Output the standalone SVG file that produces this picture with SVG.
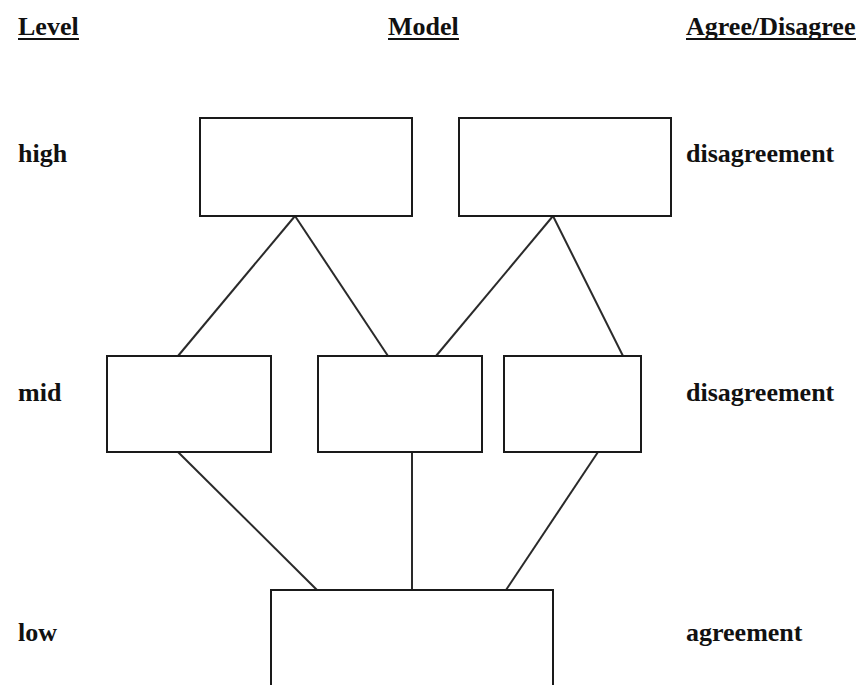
<svg xmlns="http://www.w3.org/2000/svg" width="867" height="685" viewBox="0 0 867 685">
<style>
.box{fill:#fff;stroke:#1a1a1a;stroke-width:2}
.ln{stroke:#2a2a2a;stroke-width:2;fill:none}
.t{font-family:"Liberation Serif","Times New Roman",serif;font-weight:bold;font-size:26px;fill:#111}
.ul{stroke:#111;stroke-width:2}
</style>
<rect width="867" height="685" fill="#fff"/>
<g id="headers">
<text class="t" x="18" y="35">Level</text>
<line class="ul" x1="18" y1="39" x2="79" y2="39"/>
<text class="t" x="388" y="35">Model</text>
<line class="ul" x1="388" y1="39" x2="459" y2="39"/>
<text class="t" x="686" y="35">Agree/Disagree</text>
<line class="ul" x1="686" y1="39" x2="856" y2="39"/>
</g>
<g id="level-labels">
<text class="t" x="18" y="162">high</text>
<text class="t" x="18" y="401">mid</text>
<text class="t" x="18" y="641">low</text>
</g>
<g id="agree-labels">
<text class="t" x="686" y="162">disagreement</text>
<text class="t" x="686" y="401">disagreement</text>
<text class="t" x="686" y="641">agreement</text>
</g>
<g id="connectors">
<line class="ln" x1="295" y1="216" x2="178" y2="356"/>
<line class="ln" x1="295" y1="216" x2="388" y2="356"/>
<line class="ln" x1="553" y1="216" x2="436" y2="356"/>
<line class="ln" x1="553" y1="216" x2="623" y2="356"/>
<line class="ln" x1="178" y1="452" x2="317" y2="590"/>
<line class="ln" x1="412" y1="452" x2="412" y2="590"/>
<line class="ln" x1="598" y1="452" x2="506" y2="590"/>
</g>
<g id="high-left"><rect class="box" x="200" y="118" width="212" height="98"/></g>
<g id="high-right"><rect class="box" x="459" y="118" width="212" height="98"/></g>
<g id="mid-left"><rect class="box" x="107" y="356" width="164" height="96"/></g>
<g id="mid-center"><rect class="box" x="318" y="356" width="164" height="96"/></g>
<g id="mid-right"><rect class="box" x="504" y="356" width="137" height="96"/></g>
<g id="low"><rect class="box" x="271" y="590" width="282" height="100"/></g>
</svg>
